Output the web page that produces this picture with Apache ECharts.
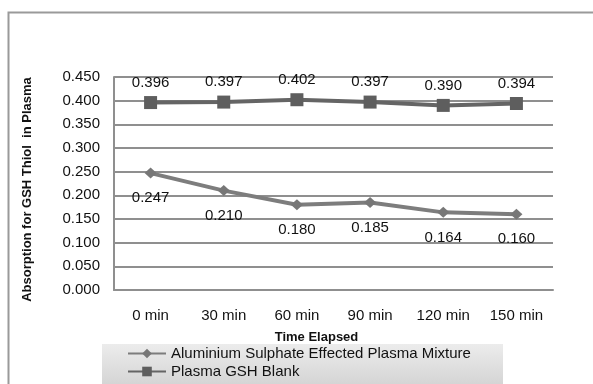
<!DOCTYPE html>
<html>
<head>
<meta charset="utf-8">
<script src="https://cdn.jsdelivr.net/npm/echarts@6/dist/echarts.min.js"></script>
<style>
html,body{margin:0;padding:0;background:#fff;}
#main{width:593px;height:384px;}
</style>
</head>
<body>
<div id="main"></div>
<script>
const categories = ['0 min', '30 min', '60 min', '90 min', '120 min', '150 min'];
const aluminiumValues = [0.247, 0.210, 0.180, 0.185, 0.164, 0.160];
const blankValues = [0.396, 0.397, 0.402, 0.397, 0.390, 0.394];
const seriesNames = ['Aluminium Sulphate Effected Plasma Mixture', 'Plasma GSH Blank'];
const yTicks = { min: 0, max: 0.45, interval: 0.05 };

const FONT = 'Liberation Sans, Arial, sans-serif';
const legendCommon = {
  orient: 'vertical',
  left: 127,
  padding: 0,
  itemWidth: 38, itemHeight: 12,
  textStyle: { fontFamily: FONT, fontSize: 15, color: '#111' }
};
const chart = echarts.init(document.getElementById('main'), null, { renderer: 'canvas' });
chart.setOption({
  animation: false,
  backgroundColor: '#fff',
  textStyle: { fontFamily: FONT },
  graphic: [{
    type: 'rect', left: 6, top: 10, z: -1,
    shape: { width: 600, height: 400 },
    style: { fill: 'none', stroke: '#9a9a9a', lineWidth: 2 }
  }, {
    type: 'rect', left: 102, top: 344, z: -1,
    shape: { width: 401, height: 45 },
    style: {
      fill: {
        type: 'linear', x: 0, y: 0, x2: 0, y2: 1,
        colorStops: [{ offset: 0, color: '#ececec' }, { offset: 1, color: '#d2d2d2' }]
      }
    }
  }],
  grid: { left: 114, top: 77, right: 40, bottom: 94 },
  legend: [
    Object.assign({ top: 346, data: [seriesNames[0]] }, legendCommon),
    Object.assign({ top: 364, data: [seriesNames[1]] }, legendCommon)
  ],
  xAxis: {
    type: 'category',
    data: categories,
    boundaryGap: true,
    name: 'Time Elapsed',
    nameLocation: 'middle',
    nameGap: 41,
    nameTextStyle: { fontFamily: FONT, fontSize: 13, fontWeight: 'bold', color: '#111', padding: [0, 34, 0, 0] },
    axisLine: { show: true, lineStyle: { color: '#8f8f8f', width: 2 } },
    axisTick: { show: false },
    axisLabel: { fontFamily: FONT, fontSize: 15, color: '#111', margin: 18 }
  },
  yAxis: {
    type: 'value',
    min: yTicks.min, max: yTicks.max, interval: yTicks.interval,
    name: 'Absorption for GSH Thiol  in Plasma',
    nameLocation: 'middle',
    nameGap: 80,
    nameTextStyle: { fontFamily: FONT, fontSize: 13, fontWeight: 'bold', color: '#111', padding: [0, 0, 0, -12] },
    axisLine: { show: true, lineStyle: { color: '#8f8f8f', width: 2 } },
    axisTick: { show: false },
    axisLabel: { fontFamily: FONT, fontSize: 15, color: '#111', margin: 14, formatter: v => v.toFixed(3) },
    splitLine: { show: true, lineStyle: { color: '#8f8f8f', width: 2 } }
  },
  series: [
    {
      name: seriesNames[0],
      type: 'line',
      data: aluminiumValues,
      symbol: 'diamond',
      symbolSize: [12, 11],
      itemStyle: { color: '#777777' },
      lineStyle: { color: '#7d7d7d', width: 4 },
      label: {
        show: true, position: 'bottom', distance: 12,
        fontFamily: FONT, fontSize: 15, color: '#111',
        formatter: p => p.value.toFixed(3)
      }
    },
    {
      name: seriesNames[1],
      type: 'line',
      data: blankValues,
      symbol: 'rect',
      symbolSize: 13,
      itemStyle: { color: '#5e5e5e' },
      lineStyle: { color: '#656565', width: 4 },
      label: {
        show: true, position: 'top', distance: 6,
        fontFamily: FONT, fontSize: 15, color: '#111',
        formatter: p => p.value.toFixed(3)
      }
    }
  ]
});
</script>
</body>
</html>
